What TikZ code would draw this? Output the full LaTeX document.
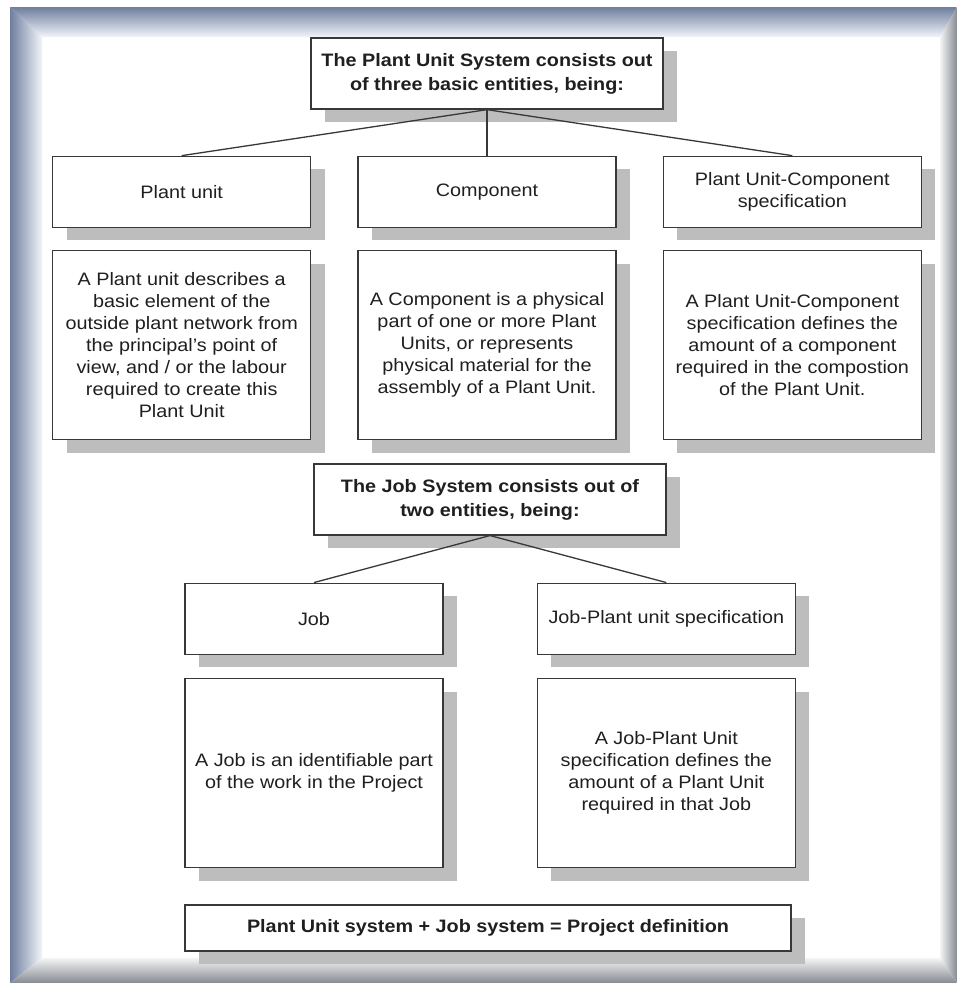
\documentclass[tikz,border=0pt]{standalone}
\usepackage{fontspec}
\setmainfont{Liberation Sans}[FakeStretch=1.1]
\usetikzlibrary{positioning,shadows}
\definecolor{frameblue}{HTML}{6F7E9E}
\definecolor{framepale}{HTML}{F1F4FA}
\definecolor{framegray}{HTML}{868A92}
\definecolor{framelight}{HTML}{F4F4F5}
\definecolor{shadowgray}{HTML}{BDBDBD}
\definecolor{boxline}{HTML}{383838}
\tikzset{box/.style={
    rectangle,draw=boxline,fill=white,line width=1.3pt,inner sep=0pt,
    align=center,text=black!88,
    font=\fontsize{18}{22}\selectfont,
    drop shadow={shadow xshift=14pt,shadow yshift=-13pt,fill=shadowgray,opacity=1}}}
\tikzset{headbox/.style={box,minimum width=352pt,minimum height=71pt,
    font=\bfseries\fontsize{18}{24}\selectfont}}
\tikzset{entity/.style={box,minimum width=258pt,minimum height=71pt}}
\tikzset{detail/.style={box,minimum width=258pt,minimum height=189pt}}
\tikzset{link/.style={draw=boxline,line width=1.3pt}}

\begin{document}
\begin{tikzpicture}[x=1pt,y=-1pt]
  \useasboundingbox (0,0) rectangle (957,983);
  \fill[white] (0,0) rectangle (957,983);

  % bevelled frame
  \shade[top color=frameblue,bottom color=framepale] (10,7) -- (957,7) -- (940,37) -- (42,37) -- cycle;
  \shade[left color=frameblue,right color=framepale] (10,7) -- (42,37) -- (42,958) -- (10,983) -- cycle;
  \shade[left color=framelight,right color=framegray] (957,7) -- (940,37) -- (940,958) -- (957,983) -- cycle;
  \shade[top color=framelight,bottom color=framegray] (10,983) -- (42,958) -- (940,958) -- (957,983) -- cycle;

  % plant unit system
  \node (plantsys)  [headbox] at (487,73.5) {The Plant Unit System consists out\\of three basic entities, being:};
  \node (component) [entity,below=46pt of plantsys]  {Component};
  \node (plantunit) [entity,left=46pt of component]  {Plant unit};
  \node (unitspec)  [entity,right=46pt of component] {Plant Unit-Component\\specification};

  \node (plantunitdesc) [detail,below=22pt of plantunit] {A Plant unit describes a\\basic element of the\\outside plant network from\\the principal's point of\\view, and / or the labour\\required to create this\\Plant Unit};
  \node (componentdesc) [detail,below=22pt of component] {A Component is a physical\\part of one or more Plant\\Units, or represents\\physical material for the\\assembly of a Plant Unit.};
  \node (unitspecdesc)  [detail,below=22pt of unitspec] {A Plant Unit-Component\\specification defines the\\amount of a component\\required in the compostion\\of the Plant Unit.};

  % job system
  \node (jobsys)  [headbox,below=23pt of componentdesc,xshift=3pt] {The Job System consists out of\\two entities, being:};
  \node (job)     [entity,below=47pt of jobsys,xshift=-176pt] {Job};
  \node (jobspec) [entity,right=93pt of job] {Job-Plant unit specification};

  \node (jobdesc)     [detail,below=23pt of job] {A Job is an identifiable part\\of the work in the Project};
  \node (jobspecdesc) [detail,below=23pt of jobspec] {A Job-Plant Unit\\specification defines the\\amount of a Plant Unit\\required in that Job};

  \node (projdef) [box,minimum width=606pt,minimum height=46pt,font=\bfseries\fontsize{18}{22}\selectfont] at (488,928) {Plant Unit system + Job system = Project definition};

  \draw [link] (plantsys.south) -- (plantunit.north);
  \draw [link] (plantsys.south) -- (component.north);
  \draw [link] (plantsys.south) -- (unitspec.north);
  \draw [link] (jobsys.south) -- (job.north);
  \draw [link] (jobsys.south) -- (jobspec.north);

\end{tikzpicture}
\end{document}
